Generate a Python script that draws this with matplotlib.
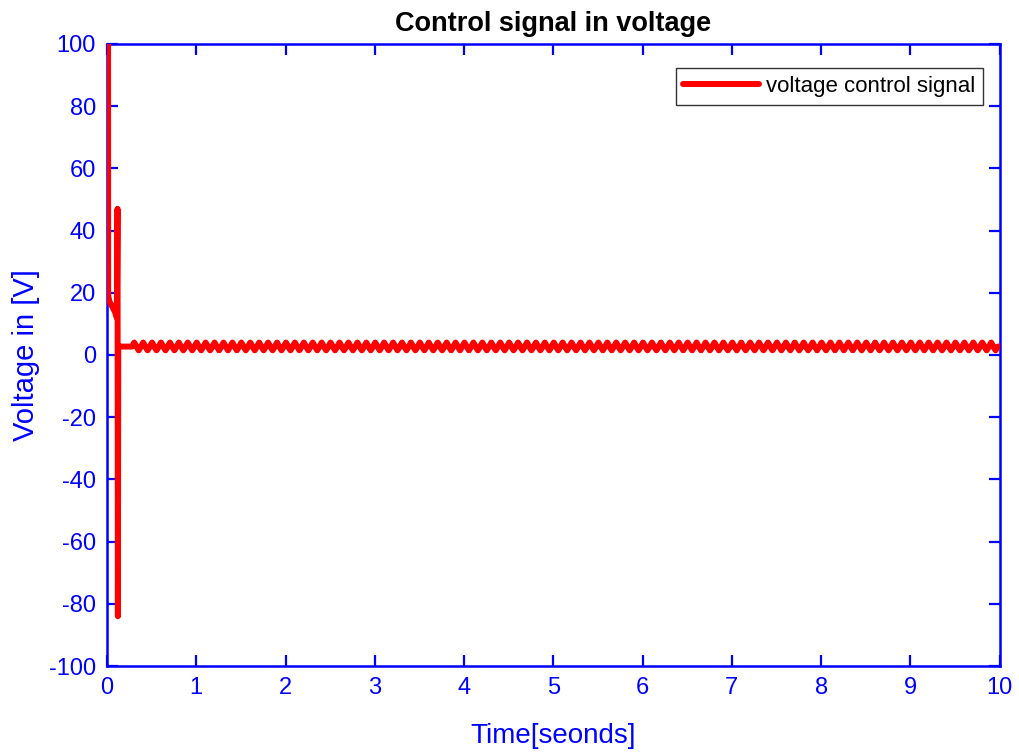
import numpy as np
import matplotlib
matplotlib.use("Agg")
import matplotlib.pyplot as plt

plt.rcParams['font.family'] = ['Liberation Sans', 'DejaVu Sans']
plt.rcParams['axes.unicode_minus'] = False

# Start-up transient of the controller output (time in s, voltage in V)
transient_t = [0.012, 0.013, 0.016, 0.03, 0.06, 0.09, 0.11, 0.118, 0.122, 0.126, 0.135, 0.28]
transient_v = [100.0, 20.0, 18.6, 17.0, 15.5, 13.8, 12.0, 47.0, -84.0, 2.7, 2.7, 2.7]

# Steady-state ripple: one period sampled at quarter steps
ripple_start = 0.28
ripple_end = 9.95
ripple_period = 0.1
ripple_cycle = [2.7, 4.0, 2.7, 1.5]
final_value = 2.7
t_end = 10.0

x_ticks = list(range(0, 11))
y_ticks = list(range(-100, 101, 20))

# Assemble the full trace
n_cycles = int(round((ripple_end - ripple_start) / ripple_period))
steps = len(ripple_cycle)
rip_t, rip_v = [], []
for k in range(n_cycles):
    for j, v in enumerate(ripple_cycle):
        rip_t.append(ripple_start + k * ripple_period + j * ripple_period / steps)
        rip_v.append(v)
t = np.array(transient_t[:-1] + rip_t + [ripple_start + n_cycles * ripple_period, t_end])
v = np.array(transient_v[:-1] + rip_v + [final_value, final_value])

blue = '#0000ff'

fig = plt.figure(figsize=(10.19, 7.54), dpi=100)
ax = fig.add_axes([0.105, 0.1167, 0.876, 0.825])

ax.plot(t, v, color='#ff0000', linewidth=4.3, solid_joinstyle='round',
        solid_capstyle='round', label='voltage control signal', zorder=3)

ax.set_xlim(0, 10)
ax.set_ylim(-100, 100)
ax.set_xticks(x_ticks)
ax.set_yticks(y_ticks)
ax.tick_params(axis='both', which='both', direction='in', length=8, width=1.6,
               colors=blue, labelsize=17, top=True, right=True, pad=8)
for s in ax.spines.values():
    s.set_color(blue)
    s.set_linewidth(1.8)

ax.set_title('Control signal in voltage', fontsize=19.5, fontweight='bold', pad=9)
ax.set_xlabel('Time[seonds]', fontsize=20, color=blue, labelpad=17)
ax.set_ylabel('Voltage in [V]', fontsize=21, color=blue, labelpad=6)

leg = ax.legend(loc='upper right', bbox_to_anchor=(0.981, 0.9614), fontsize=16,
                fancybox=False, framealpha=1, edgecolor='#333333',
                handlelength=3.4, borderaxespad=0.0, borderpad=0.35,
                handletextpad=0.3)
leg.get_frame().set_linewidth(1.0)

fig.savefig('out.png', dpi=100)
